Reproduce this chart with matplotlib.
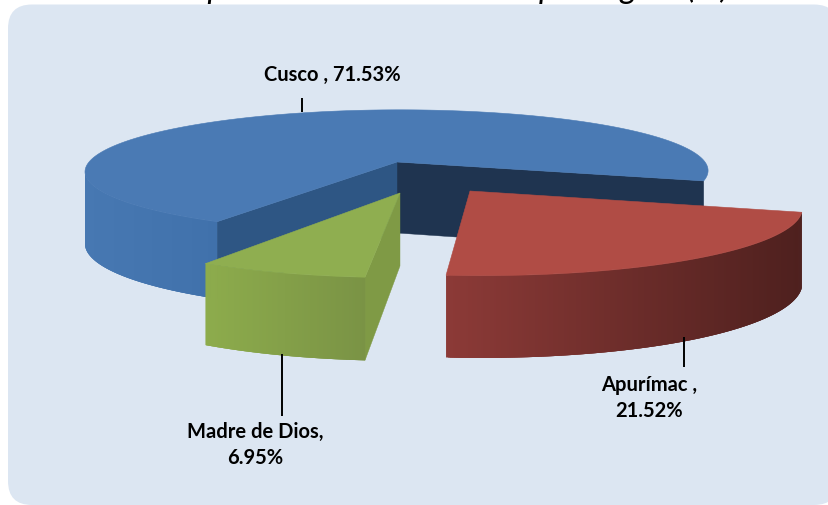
import numpy as np
import matplotlib
matplotlib.use("Agg")
import matplotlib.pyplot as plt
from matplotlib.patches import FancyBboxPatch, Polygon
from matplotlib.colors import to_rgb

regions = ["Cusco", "Apurímac", "Madre de Dios"]
shares = [71.53, 21.52, 6.95]
labels = ["Cusco , 71.53%", "Apurímac ,\n21.52%", "Madre de Dios,\n6.95%"]
# Only the descenders of this title survive the crop in the reference; the wording is a best guess.
title = "Reparto del volumen total por región (%)"

W, H = 829, 506
fig = plt.figure(figsize=(W / 100, H / 100), dpi=100)
ax = fig.add_axes([0, 0, 1, 1])
ax.set_xlim(0, W)
ax.set_ylim(H, 0)
ax.axis("off")

R = 24
ax.add_patch(FancyBboxPatch((8 + R, 5.5 + R), 838 - 8 - 2 * R, 506 - 5.5 - 2 * R,
                            boxstyle=f"round,pad={R},rounding_size={R}", fc="#dce6f2", ec="none", zorder=1))
ax.text(729, -2, title, ha="right", va="baseline", fontsize=24, style="italic",
        family="Lato", color="black", clip_on=False, zorder=2)

start = -17.5           # angle (deg) where Cusco's arc ends and Apurímac's begins


def proj(a, c, rx, ry, k, s):
    t = np.radians(a)
    d = 1 + k * np.sin(t)
    y = ry * np.sin(t) / d
    return c[0] + rx * np.cos(t) / d - s * y, c[1] - y


def lerp(c1, c2, f):
    a, b = np.array(to_rgb(c1)), np.array(to_rgb(c2))
    return tuple(a + (b - a) * f)


def slice3d(a1, a2, c, rx, ry, k, s, depth, grow, top, side1, side2, z, faces=(), rim_from=None):
    """Top face and extruded rim for the arc a1->a2 (degrees, a1<a2)."""
    aa = np.linspace(a1, a2, 300)
    xs, ys = proj(aa, c, rx, ry, k, s)
    low = lambda x, y: y + depth + grow * (y - c[1])
    for fa, col in faces:
        x, y = proj(fa, c, rx, ry, k, s)
        ax.add_patch(Polygon([c, (x, y), (x, low(x, y)), (c[0], c[1] + depth)],
                             fc=col, ec=col, lw=0.3, zorder=z))
    ra = aa if rim_from is None else aa[aa >= rim_from]
    rx_, ry_ = proj(ra, c, rx, ry, k, s)
    x0, x1 = rx_.min(), rx_.max()
    n = len(ra)
    for i in range(n - 1):
        j = min(i + 4, n)
        f = (rx_[i] - x0) / max(x1 - x0, 1)
        col = lerp(side1, side2, f)
        px, py = rx_[i:j], ry_[i:j]
        pts = list(zip(px, py)) + list(zip(px[::-1], low(px[::-1], py[::-1])))
        ax.add_patch(Polygon(pts, fc=col, ec="none", zorder=z + 0.1))
    ax.add_patch(Polygon(list(zip(xs, ys)) + [c], fc=top, ec=top, lw=0.4, zorder=z + 0.2))


sweeps = [v * 3.6 for v in shares]
red_a2 = start
red_a1 = red_a2 - sweeps[1]
green_a2 = red_a1
green_a1 = green_a2 - sweeps[2]
blue_a2 = green_a1
blue_a1 = blue_a2 - sweeps[0]

slice3d(blue_a1, blue_a2, (397, 163), 308, 60, 0.15, -0.05, 71, 0.1,
        "#4a7ab4", "#4778b2", "#4071ab", 3,
        faces=[(blue_a1, "#1f3450"), (blue_a2, "#2e5684")], rim_from=-171)
slice3d(green_a1, green_a2, (400, 194), 315, 66, 0.22, 0, 73, 0.12,
        "#8fae50", "#8dac4c", "#7a9345", 5,
        faces=[(green_a2, "#7f9a45")])
slice3d(red_a1, red_a2, (470, 192), 322, 66, 0.22, 0.14, 73, 0.11,
        "#b04c45", "#8c3a37", "#4e201e", 7)

# leader lines
for x, y1, y2 in [(302, 99, 113), (684, 338, 368), (282, 355, 417)]:
    ax.plot([x, x], [y1, y2], color="black", lw=1.4, zorder=9, solid_capstyle="butt")

for (x, y), t in zip([(332, 75), (649, 398), (255, 445)], labels):
    ax.text(x, y, t, ha="center", va="center", fontsize=14.5, fontweight="bold",
            family="Lato", color="black", linespacing=1.4, zorder=10)

fig.savefig("out.png", dpi=100)
